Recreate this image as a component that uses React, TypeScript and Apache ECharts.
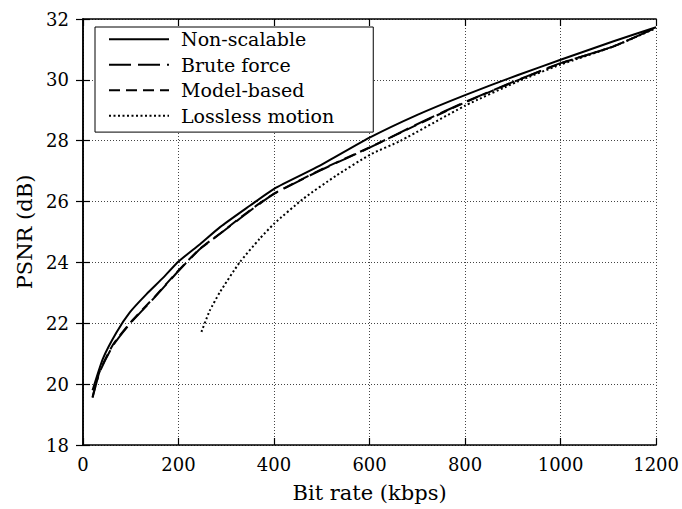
import React, { useEffect, useRef } from "react";
import * as echarts from "echarts";

const seriesNames = ["Non-scalable", "Brute force", "Model-based", "Lossless motion"];

const nonScalable: [number, number][] = [
  [20, 19.8], [42, 20.85], [70, 21.7], [98, 22.36], [133, 22.96], [168, 23.5],
  [200, 24.03], [245, 24.6], [287, 25.16], [350, 25.87], [400, 26.42], [496, 27.18],
  [600, 28.1], [700, 28.85], [800, 29.5], [911, 30.16], [1000, 30.66], [1111, 31.27],
  [1200, 31.73],
];

const bruteForce: [number, number][] = [
  [20, 19.55], [35, 20.4], [63, 21.27], [98, 21.98], [150, 22.85], [200, 23.72],
  [245, 24.44], [287, 24.94], [350, 25.7], [400, 26.25], [496, 27.02], [600, 27.77],
  [715, 28.66], [800, 29.27], [911, 30.0], [1000, 30.55], [1111, 31.1], [1200, 31.72],
];

const modelBased: [number, number][] = [
  [20, 19.58], [35, 20.42], [63, 21.3], [98, 22.0], [150, 22.87], [200, 23.74],
  [245, 24.45], [287, 24.95], [350, 25.72], [400, 26.26], [496, 27.03], [600, 27.78],
  [715, 28.64], [800, 29.26], [911, 29.99], [1000, 30.54], [1111, 31.1], [1200, 31.72],
];

const lossless: [number, number][] = [
  [248, 21.72], [265, 22.4], [287, 23.03], [328, 24.0], [370, 24.78], [400, 25.27],
  [461, 26.09], [530, 26.85], [602, 27.55], [664, 27.99], [800, 29.15], [911, 29.95],
  [1000, 30.5], [1111, 31.1], [1200, 31.7],
];

const xTicks = { min: 0, max: 1200, interval: 200 };
const yTicks = { min: 18, max: 32, interval: 2 };

const FONT = "DejaVu Serif";

export default function App() {
  const ref = useRef<HTMLDivElement>(null);
  useEffect(() => {
    if (!ref.current) return;
    const chart = echarts.init(ref.current, undefined, { renderer: "svg" });
    const axisLine = { show: true, lineStyle: { color: "#000", width: 1.5 } };
    const tick = { show: true, inside: true, length: 7, lineStyle: { color: "#000", width: 1.2 } };
    const split = { show: true, lineStyle: { color: "#444", width: 1, type: [1, 2] as any } };
    const plain = (v: number) => String(v);
    const mk = (name: string, data: [number, number][], type: any) => ({
      name,
      type: "line",
      data,
      xAxisIndex: 0,
      yAxisIndex: 0,
      showSymbol: false,
      symbol: "none",
      smooth: 0.2,
      lineStyle: { color: "#000", width: 2, type },
      itemStyle: { color: "#000" },
      z: 3,
    });
    chart.setOption({
      animation: false,
      backgroundColor: "#fff",
      textStyle: { fontFamily: FONT },
      grid: { left: 83, right: 23, top: 19, bottom: 64, containLabel: false },
      legend: {
        show: true,
        orient: "vertical",
        left: 95,
        top: 27,
        padding: [2.3, 39, 6.3, 13],
        itemWidth: 60,
        itemHeight: 21.4,
        itemGap: 5.5,
        borderColor: "#000",
        borderWidth: 1,
        backgroundColor: "#fff",
        selectedMode: false,
        itemStyle: { opacity: 0 },
        data: seriesNames,
        textStyle: {
          fontFamily: FONT,
          fontSize: 19,
          color: "#000",
          lineHeight: 20,
          padding: [0, 0, 0, 7],
        },
      },
      xAxis: [
        {
          type: "value",
          ...xTicks,
          name: "Bit rate (kbps)",
          nameLocation: "middle",
          nameGap: 37,
          nameTextStyle: { fontFamily: FONT, fontSize: 21, color: "#000" },
          axisLine,
          axisTick: tick,
          splitLine: split,
          axisLabel: { fontFamily: FONT, fontSize: 18, color: "#000", margin: 10, formatter: plain },
        },
        {
          type: "value",
          position: "top",
          ...xTicks,
          axisLine,
          axisTick: tick,
          splitLine: { show: false },
          axisLabel: { show: false },
        },
      ],
      yAxis: [
        {
          type: "value",
          ...yTicks,
          name: "PSNR (dB)",
          nameLocation: "middle",
          nameGap: 46,
          nameTextStyle: { fontFamily: FONT, fontSize: 21, color: "#000" },
          axisLine,
          axisTick: tick,
          splitLine: split,
          axisLabel: { fontFamily: FONT, fontSize: 18, color: "#000", margin: 14, formatter: plain },
        },
        {
          type: "value",
          position: "right",
          ...yTicks,
          axisLine,
          axisTick: tick,
          splitLine: { show: false },
          axisLabel: { show: false },
        },
      ],
      series: [
        mk(seriesNames[0], nonScalable, "solid"),
        mk(seriesNames[1], bruteForce, [22, 7]),
        mk(seriesNames[2], modelBased, [11, 6]),
        mk(seriesNames[3], lossless, [2, 2.5]),
      ],
    });
    return () => chart.dispose();
  }, []);
  return (
    <div
      ref={ref}
      style={{ position: "fixed", left: 0, top: 0, width: 682, height: 509, background: "#fff" }}
    />
  );
}
